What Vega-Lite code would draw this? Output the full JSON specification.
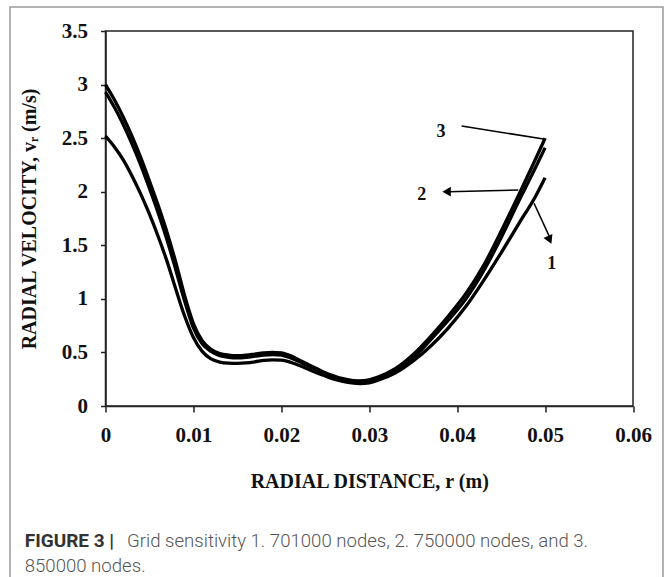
{
  "$schema": "https://vega.github.io/schema/vega-lite/v6.json",
  "autosize": {"type": "none"},
  "width": 527.5,
  "height": 375,
  "padding": {"left": 105.5, "top": 31, "right": 33, "bottom": 171},
  "background": "white",
  "config": {
    "view": {"stroke": "#222", "strokeWidth": 1.5},
    "axis": {
      "labelFont": "Liberation Serif", "labelFontWeight": "bold", "labelFontSize": 21, "labelColor": "#111",
      "titleFont": "Liberation Serif", "titleFontWeight": "bold", "titleFontSize": 20, "titleColor": "#111",
      "domainColor": "#222", "domainWidth": 1.5, "tickColor": "#222", "tickWidth": 1.5, "grid": false
    }
  },
  "datasets": {
    "curves": [
      {"r": 0.000, "v": 3.00, "curve": "3"}, {"r": 0.001, "v": 2.86, "curve": "3"}, {"r": 0.002, "v": 2.70, "curve": "3"},
      {"r": 0.003, "v": 2.52, "curve": "3"}, {"r": 0.004, "v": 2.32, "curve": "3"}, {"r": 0.005, "v": 2.10, "curve": "3"},
      {"r": 0.006, "v": 1.87, "curve": "3"}, {"r": 0.007, "v": 1.62, "curve": "3"}, {"r": 0.008, "v": 1.34, "curve": "3"},
      {"r": 0.009, "v": 1.03, "curve": "3"}, {"r": 0.010, "v": 0.77, "curve": "3"}, {"r": 0.011, "v": 0.61, "curve": "3"},
      {"r": 0.012, "v": 0.53, "curve": "3"}, {"r": 0.013, "v": 0.49, "curve": "3"}, {"r": 0.014, "v": 0.475, "curve": "3"},
      {"r": 0.015, "v": 0.47, "curve": "3"}, {"r": 0.016, "v": 0.475, "curve": "3"}, {"r": 0.017, "v": 0.485, "curve": "3"},
      {"r": 0.018, "v": 0.495, "curve": "3"}, {"r": 0.019, "v": 0.50, "curve": "3"}, {"r": 0.020, "v": 0.495, "curve": "3"},
      {"r": 0.021, "v": 0.47, "curve": "3"}, {"r": 0.022, "v": 0.43, "curve": "3"}, {"r": 0.023, "v": 0.39, "curve": "3"},
      {"r": 0.024, "v": 0.35, "curve": "3"}, {"r": 0.025, "v": 0.31, "curve": "3"}, {"r": 0.026, "v": 0.28, "curve": "3"},
      {"r": 0.027, "v": 0.255, "curve": "3"}, {"r": 0.028, "v": 0.24, "curve": "3"}, {"r": 0.029, "v": 0.235, "curve": "3"},
      {"r": 0.030, "v": 0.245, "curve": "3"}, {"r": 0.031, "v": 0.27, "curve": "3"}, {"r": 0.033, "v": 0.35, "curve": "3"},
      {"r": 0.035, "v": 0.48, "curve": "3"}, {"r": 0.037, "v": 0.65, "curve": "3"}, {"r": 0.039, "v": 0.84, "curve": "3"},
      {"r": 0.041, "v": 1.05, "curve": "3"}, {"r": 0.043, "v": 1.31, "curve": "3"}, {"r": 0.045, "v": 1.63, "curve": "3"},
      {"r": 0.047, "v": 1.97, "curve": "3"}, {"r": 0.049, "v": 2.32, "curve": "3"}, {"r": 0.050, "v": 2.50, "curve": "3"},

      {"r": 0.000, "v": 2.93, "curve": "2"}, {"r": 0.001, "v": 2.79, "curve": "2"}, {"r": 0.002, "v": 2.63, "curve": "2"},
      {"r": 0.003, "v": 2.45, "curve": "2"}, {"r": 0.004, "v": 2.25, "curve": "2"}, {"r": 0.005, "v": 2.03, "curve": "2"},
      {"r": 0.006, "v": 1.80, "curve": "2"}, {"r": 0.007, "v": 1.55, "curve": "2"}, {"r": 0.008, "v": 1.27, "curve": "2"},
      {"r": 0.009, "v": 0.98, "curve": "2"}, {"r": 0.010, "v": 0.73, "curve": "2"}, {"r": 0.011, "v": 0.58, "curve": "2"},
      {"r": 0.012, "v": 0.51, "curve": "2"}, {"r": 0.013, "v": 0.47, "curve": "2"}, {"r": 0.014, "v": 0.455, "curve": "2"},
      {"r": 0.015, "v": 0.45, "curve": "2"}, {"r": 0.016, "v": 0.455, "curve": "2"}, {"r": 0.017, "v": 0.465, "curve": "2"},
      {"r": 0.018, "v": 0.475, "curve": "2"}, {"r": 0.019, "v": 0.48, "curve": "2"}, {"r": 0.020, "v": 0.475, "curve": "2"},
      {"r": 0.021, "v": 0.45, "curve": "2"}, {"r": 0.022, "v": 0.415, "curve": "2"}, {"r": 0.023, "v": 0.375, "curve": "2"},
      {"r": 0.024, "v": 0.34, "curve": "2"}, {"r": 0.025, "v": 0.30, "curve": "2"}, {"r": 0.026, "v": 0.27, "curve": "2"},
      {"r": 0.027, "v": 0.25, "curve": "2"}, {"r": 0.028, "v": 0.235, "curve": "2"}, {"r": 0.029, "v": 0.23, "curve": "2"},
      {"r": 0.030, "v": 0.24, "curve": "2"}, {"r": 0.031, "v": 0.26, "curve": "2"}, {"r": 0.033, "v": 0.33, "curve": "2"},
      {"r": 0.035, "v": 0.45, "curve": "2"}, {"r": 0.037, "v": 0.62, "curve": "2"}, {"r": 0.039, "v": 0.80, "curve": "2"},
      {"r": 0.041, "v": 1.00, "curve": "2"}, {"r": 0.043, "v": 1.26, "curve": "2"}, {"r": 0.045, "v": 1.57, "curve": "2"},
      {"r": 0.047, "v": 1.91, "curve": "2"}, {"r": 0.049, "v": 2.24, "curve": "2"}, {"r": 0.050, "v": 2.41, "curve": "2"},

      {"r": 0.000, "v": 2.52, "curve": "1"}, {"r": 0.001, "v": 2.42, "curve": "1"}, {"r": 0.002, "v": 2.30, "curve": "1"},
      {"r": 0.003, "v": 2.15, "curve": "1"}, {"r": 0.004, "v": 1.98, "curve": "1"}, {"r": 0.005, "v": 1.79, "curve": "1"},
      {"r": 0.006, "v": 1.58, "curve": "1"}, {"r": 0.007, "v": 1.35, "curve": "1"}, {"r": 0.008, "v": 1.09, "curve": "1"},
      {"r": 0.009, "v": 0.84, "curve": "1"}, {"r": 0.010, "v": 0.64, "curve": "1"}, {"r": 0.011, "v": 0.51, "curve": "1"},
      {"r": 0.012, "v": 0.44, "curve": "1"}, {"r": 0.013, "v": 0.41, "curve": "1"}, {"r": 0.014, "v": 0.40, "curve": "1"},
      {"r": 0.015, "v": 0.398, "curve": "1"}, {"r": 0.016, "v": 0.402, "curve": "1"}, {"r": 0.017, "v": 0.412, "curve": "1"},
      {"r": 0.018, "v": 0.425, "curve": "1"}, {"r": 0.019, "v": 0.43, "curve": "1"}, {"r": 0.020, "v": 0.428, "curve": "1"},
      {"r": 0.021, "v": 0.41, "curve": "1"}, {"r": 0.022, "v": 0.38, "curve": "1"}, {"r": 0.023, "v": 0.345, "curve": "1"},
      {"r": 0.024, "v": 0.31, "curve": "1"}, {"r": 0.025, "v": 0.28, "curve": "1"}, {"r": 0.026, "v": 0.25, "curve": "1"},
      {"r": 0.027, "v": 0.23, "curve": "1"}, {"r": 0.028, "v": 0.215, "curve": "1"}, {"r": 0.029, "v": 0.21, "curve": "1"},
      {"r": 0.030, "v": 0.215, "curve": "1"}, {"r": 0.031, "v": 0.24, "curve": "1"}, {"r": 0.033, "v": 0.31, "curve": "1"},
      {"r": 0.035, "v": 0.42, "curve": "1"}, {"r": 0.037, "v": 0.56, "curve": "1"}, {"r": 0.039, "v": 0.73, "curve": "1"},
      {"r": 0.041, "v": 0.93, "curve": "1"}, {"r": 0.043, "v": 1.17, "curve": "1"}, {"r": 0.045, "v": 1.43, "curve": "1"},
      {"r": 0.047, "v": 1.70, "curve": "1"}, {"r": 0.049, "v": 1.97, "curve": "1"}, {"r": 0.050, "v": 2.13, "curve": "1"}
    ],
    "labels": [
      {"r": 0.03816, "v": 2.56, "text": "3"},
      {"r": 0.03596, "v": 1.97, "text": "2"},
      {"r": 0.05075, "v": 1.33, "text": "1"}
    ],
    "arrows": [
      {"r": 0.04051, "v": 2.613, "r2": 0.0500, "v2": 2.489},
      {"r": 0.04695, "v": 2.016, "r2": 0.0390, "v2": 2.0},
      {"r": 0.04874, "v": 1.892, "r2": 0.0505, "v2": 1.58}
    ],
    "headLeft": [{"r": 0.03880, "v": 2.0}],
    "headDown": [{"r": 0.05052, "v": 1.55}],
    "captionBold": [{"r": -0.00919, "v": -1.262, "text": "FIGURE 3 |"}],
    "captionText": [
      {"r": 0.00245, "v": -1.262, "text": "Grid sensitivity 1. 701000 nodes, 2. 750000 nodes, and 3."},
      {"r": -0.00919, "v": -1.495, "text": "850000 nodes."}
    ]
  },
  "layer": [
    {
      "data": {"values": [{}]},
      "mark": {"type": "rect", "fill": null, "fillOpacity": 0, "stroke": "#9a9a9a", "strokeWidth": 1.5, "clip": false},
      "encoding": {
        "x": {"datum": -0.01086, "type": "quantitative", "scale": {"domain": [0, 0.06], "nice": false}},
        "x2": {"datum": 0.06341},
        "y": {"datum": 3.724, "type": "quantitative", "scale": {"domain": [0, 3.5], "nice": false}},
        "y2": {"datum": -1.8}
      }
    },
    {
      "data": {"name": "curves"},
      "mark": {"type": "line", "color": "black", "strokeWidth": 3.3, "interpolate": "monotone"},
      "encoding": {
        "x": {"field": "r", "type": "quantitative",
              "scale": {"domain": [0, 0.06], "nice": false},
              "axis": {"values": [0, 0.01, 0.02, 0.03, 0.04, 0.05, 0.06], "format": "~g", "tickSize": 6, "labelPadding": 12, "title": "RADIAL DISTANCE, r (m)", "titlePadding": 26, "labelFlush": false}},
        "y": {"field": "v", "type": "quantitative",
              "scale": {"domain": [0, 3.5], "nice": false},
              "axis": {"values": [0, 0.5, 1, 1.5, 2, 2.5, 3, 3.5], "format": "~g", "tickSize": 5, "labelPadding": 13, "title": "RADIAL VELOCITY, vᵣ (m/s)", "titlePadding": 22, "labelFlush": false}},
        "detail": {"field": "curve"}
      }
    },
    {
      "data": {"name": "arrows"},
      "mark": {"type": "rule", "color": "black", "strokeWidth": 1.6},
      "encoding": {
        "x": {"field": "r", "type": "quantitative"},
        "y": {"field": "v", "type": "quantitative"},
        "x2": {"field": "r2"},
        "y2": {"field": "v2"}
      }
    },
    {
      "data": {"name": "headLeft"},
      "mark": {"type": "point", "shape": "triangle-left", "filled": true, "color": "black", "size": 95, "opacity": 1},
      "encoding": {"x": {"field": "r", "type": "quantitative"}, "y": {"field": "v", "type": "quantitative"}}
    },
    {
      "data": {"name": "headDown"},
      "mark": {"type": "point", "shape": "triangle-up", "angle": 156, "filled": true, "color": "black", "size": 95, "opacity": 1},
      "encoding": {"x": {"field": "r", "type": "quantitative"}, "y": {"field": "v", "type": "quantitative"}}
    },
    {
      "data": {"name": "labels"},
      "mark": {"type": "text", "font": "Liberation Serif", "fontWeight": "bold", "fontSize": 18, "color": "#111", "baseline": "middle", "align": "center"},
      "encoding": {"x": {"field": "r", "type": "quantitative"}, "y": {"field": "v", "type": "quantitative"}, "text": {"field": "text"}}
    },
    {
      "data": {"name": "captionBold"},
      "mark": {"type": "text", "font": "Roboto", "fontWeight": "bold", "fontSize": 19, "color": "#333", "baseline": "middle", "align": "left", "clip": false},
      "encoding": {"x": {"field": "r", "type": "quantitative"}, "y": {"field": "v", "type": "quantitative"}, "text": {"field": "text"}}
    },
    {
      "data": {"name": "captionText"},
      "mark": {"type": "text", "font": "Roboto", "fontWeight": 300, "fontSize": 18.6, "color": "#555", "baseline": "middle", "align": "left", "clip": false},
      "encoding": {"x": {"field": "r", "type": "quantitative"}, "y": {"field": "v", "type": "quantitative"}, "text": {"field": "text"}}
    }
  ]
}
